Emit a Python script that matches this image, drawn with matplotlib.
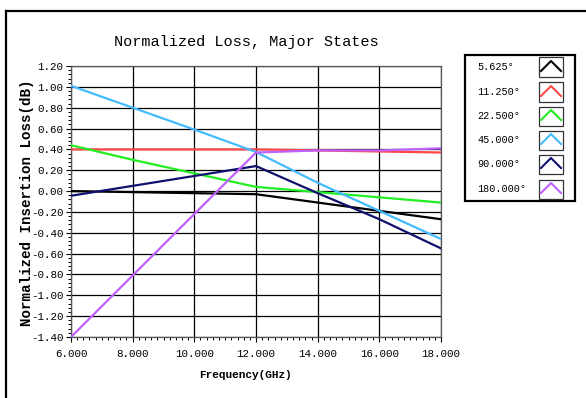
import matplotlib
matplotlib.use("Agg")
import matplotlib.pyplot as plt
from matplotlib.lines import Line2D
from matplotlib.patches import Rectangle
from matplotlib.ticker import MultipleLocator, FormatStrFormatter

freq = [6, 8, 10, 12, 14, 16, 18]
s5_625 = [0.00, -0.01, -0.02, -0.03, -0.11, -0.19, -0.27]
s11_25 = [0.40, 0.40, 0.40, 0.40, 0.39, 0.38, 0.37]
s22_5 = [0.44, 0.30, 0.17, 0.04, -0.01, -0.06, -0.11]
s45 = [1.01, 0.80, 0.59, 0.375, 0.08, -0.19, -0.46]
s90 = [-0.045, 0.05, 0.145, 0.24, -0.02, -0.27, -0.55]
s180 = [-1.40, -0.81, -0.22, 0.37, 0.39, 0.39, 0.41]

labels = ["5.625°", "11.250°", "22.500°", "45.000°", "90.000°", "180.000°"]
series = [s5_625, s11_25, s22_5, s45, s90, s180]
colors = ["#000000", "#ff4848", "#22ee22", "#44bbff", "#10106e", "#c060ff"]

W, H = 586, 398
fig = plt.figure(figsize=(W / 100, H / 100), dpi=100)
mono = "Liberation Mono"

def fx(px):
    return px / W

def fy(py):
    return 1 - py / H

ax = fig.add_axes([fx(71), fy(337), fx(441) - fx(71), fy(66) - fy(337)])
for vals, c in zip(series, colors):
    ax.plot(freq, vals, color=c, lw=1.6, zorder=3)

ax.set_xlim(6, 18)
ax.set_ylim(-1.4, 1.2)
ax.xaxis.set_major_locator(MultipleLocator(2))
ax.xaxis.set_minor_locator(MultipleLocator(0.2))
ax.yaxis.set_major_locator(MultipleLocator(0.2))
ax.yaxis.set_minor_locator(MultipleLocator(0.04))
ax.xaxis.set_major_formatter(FormatStrFormatter("%.3f"))
ax.yaxis.set_major_formatter(FormatStrFormatter("%.2f"))
ax.grid(True, which="major", color="black", lw=0.9)
ax.tick_params(which="major", length=3.5, width=0.8, direction="out", labelsize=7.8, pad=2)
ax.tick_params(axis="x", which="major", pad=5)
ax.tick_params(which="minor", length=2, width=0.7, direction="out")
for lab in ax.get_xticklabels() + ax.get_yticklabels():
    lab.set_family(mono)
for sp in ax.spines.values():
    sp.set_color("#555555")
    sp.set_linewidth(0.9)

fig.text(fx(246), fy(42), "Normalized Loss, Major States", family=mono,
         fontsize=11, ha="center", va="center")
fig.text(fx(246), fy(375), "Frequency(GHz)", family=mono, fontweight="bold",
         fontsize=8, ha="center", va="center")
fig.text(fx(27), fy(203), "Normalized Insertion Loss(dB)", family=mono,
         fontweight="bold", fontsize=10.2, ha="center", va="center", rotation=90)

# outer frame
fig.add_artist(Line2D([fx(5.5), fx(5.5)], [0, fy(10.5)], color="black", lw=1.6))
fig.add_artist(Line2D([fx(5.5), 1], [fy(10.5), fy(10.5)], color="black", lw=1.6))

# legend
fig.add_artist(Rectangle((fx(465), fy(201)), fx(575) - fx(465), fy(55) - fy(201),
                         fill=False, edgecolor="black", lw=1.6))
rows = [67, 92, 116, 140, 164, 189]
for lab, c, ry in zip(labels, colors, rows):
    fig.text(fx(477), fy(ry), lab, family=mono, fontsize=7.3, ha="left", va="center")
    fig.add_artist(Rectangle((fx(539), fy(ry + 9.5)), fx(563) - fx(539), fy(ry - 9.5) - fy(ry + 9.5),
                             fill=False, edgecolor="#333333", lw=0.9))
    fig.add_artist(Line2D([fx(541), fx(551), fx(561)], [fy(ry + 4), fy(ry - 6), fy(ry + 4)],
                          color=c, lw=1.5))

fig.savefig("out.png", dpi=100)
